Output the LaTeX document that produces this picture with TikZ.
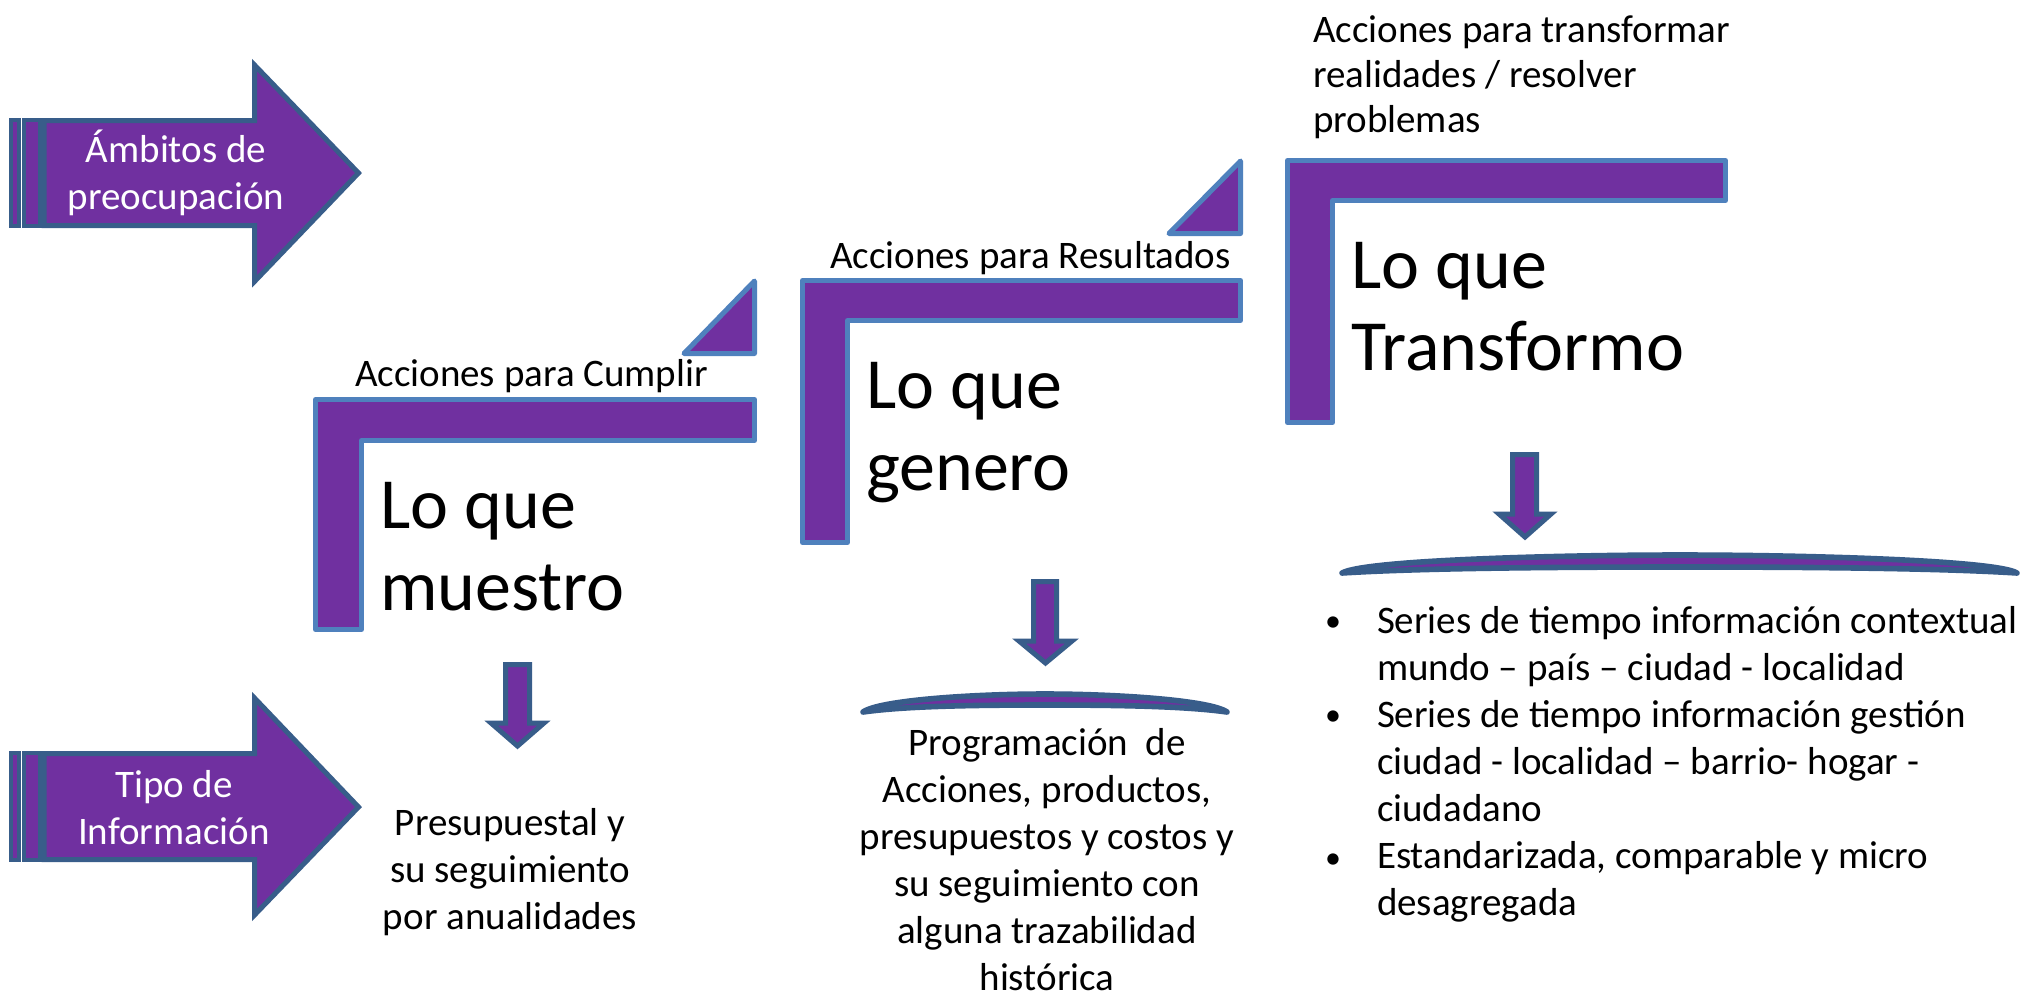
\documentclass[tikz,border=0pt]{standalone}
\usepackage{fontspec}
\setmainfont{Carlito}
\definecolor{purp}{HTML}{7030A0}
\definecolor{dkblue}{HTML}{385D8A}
\definecolor{ltblue}{HTML}{4F81BD}
\tikzset{
  blockarrow/.style={fill=purp, draw=dkblue, line width=2.5pt, line join=miter},
  stripe/.style={fill=purp, draw=dkblue, line width=2pt},
  lshape/.style={fill=purp, draw=ltblue, line width=2.5pt, line join=round},
  tri/.style={fill=purp, draw=ltblue, line width=2.5pt, line join=round},
  curvebar/.style={fill=purp, draw=dkblue, line width=2.8pt, line join=round},
  txt/.style={inner sep=0pt, outer sep=0pt, font=\fontsize{19.5}{23.5}\selectfont},
  bullettxt/.style={inner sep=0pt, outer sep=0pt, font=\fontsize{16}{20}\selectfont},
  bigtxt/.style={inner sep=0pt, outer sep=0pt, font=\fontsize{36}{41}\selectfont},
}
\begin{document}
\begin{tikzpicture}[x=0.5pt, y=-0.5pt]
\useasboundingbox (0,0) rectangle (2034,1003);
\fill[white] (0,0) rectangle (2034,1003);

% ---- Striped arrow 1: Ambitos de preocupacion
\path[stripe] (11,120) rectangle (18.5,226);
\path[stripe] (23.5,120) rectangle (39.5,226);
\path[blockarrow] (44,120.5) -- (254.5,120.5) -- (254.5,65) -- (358.5,173) -- (254.5,281.5) -- (254.5,225.5) -- (44,225.5) -- cycle;
\node[txt, text=white, anchor=base] (amb) at (176,162) {\begin{tabular}[t]{@{}c@{}}Ámbitos de\\ preocupación\end{tabular}};

% ---- Striped arrow 2: Tipo de Informacion
\path[stripe] (11,753) rectangle (19,860);
\path[stripe] (23.5,753) rectangle (39.5,860);
\path[blockarrow] (44,753.5) -- (254.5,753.5) -- (254.5,698) -- (358.5,807) -- (254.5,915) -- (254.5,859.5) -- (44,859.5) -- cycle;
\node[txt, text=white, anchor=base] (tipo) at (174,797) {\begin{tabular}[t]{@{}c@{}}Tipo de\\ Información\end{tabular}};

% ---- L shape 1 + triangle
\path[lshape] (315.5,399.5) -- (754.5,399.5) -- (754.5,440.5) -- (361.5,440.5) -- (361.5,629.5) -- (315.5,629.5) -- cycle;
\path[tri] (754.5,281) -- (754.5,353.5) -- (684,353.5) -- cycle;
\node[txt, anchor=base west] (cumplir) at (355,386) {Acciones para Cumplir};
\node[bigtxt, anchor=base west] (muestro) at (380,528) {\begin{tabular}[t]{@{}l@{}}Lo que\\ muestro\end{tabular}};

% ---- L shape 2 + triangle
\path[lshape] (802.5,280.5) -- (1240.5,280.5) -- (1240.5,320.5) -- (847.5,320.5) -- (847.5,542.5) -- (802.5,542.5) -- cycle;
\path[tri] (1240.5,161) -- (1240.5,233.5) -- (1169,233.5) -- cycle;
\node[txt, anchor=base west] (result) at (830,268) {Acciones para Resultados};
\node[bigtxt, anchor=base west] (genero) at (866,408) {\begin{tabular}[t]{@{}l@{}}Lo que\\ genero\end{tabular}};

% ---- L shape 3
\path[lshape] (1287.5,160.5) -- (1725.5,160.5) -- (1725.5,200.5) -- (1332.5,200.5) -- (1332.5,422.5) -- (1287.5,422.5) -- cycle;
\node[txt, anchor=base west] (transf) at (1313,42) {\fontsize{19.5}{22.5}\selectfont\begin{tabular}[t]{@{}l@{}}Acciones para transformar\\ realidades / resolver\\ problemas\end{tabular}};
\node[bigtxt, anchor=base west] (transformo) at (1351,288) {\begin{tabular}[t]{@{}l@{}}Lo que\\ Transformo\end{tabular}};

% ---- Down arrows
\path[blockarrow] (505.5,664.5) -- (529.5,664.5) -- (529.5,723) -- (544,723) -- (517.5,746) -- (491,723) -- (505.5,723) -- cycle;
\path[blockarrow] (1033.5,581.5) -- (1056.5,581.5) -- (1056.5,641) -- (1072,641) -- (1045.5,663) -- (1019,641) -- (1033.5,641) -- cycle;
\path[blockarrow] (1512.5,454.5) -- (1536.5,454.5) -- (1536.5,514) -- (1551,514) -- (1525,537) -- (1499,514) -- (1512.5,514) -- cycle;

% ---- Curved bars
\path[curvebar] (863,712) .. controls (880,700) and (975,694) .. (1045,694) .. controls (1115,694) and (1210,700) .. (1227,712) .. controls (1185,706) and (1115,705) .. (1045,705) .. controls (975,705) and (905,706) .. cycle;
\path[curvebar] (1342,573) .. controls (1365,560) and (1560,555) .. (1680,555) .. controls (1800,555) and (1995,560) .. (2017,573) .. controls (1940,568) and (1800,567) .. (1680,567) .. controls (1560,567) and (1420,568) .. cycle;

% ---- Lower texts
\node[txt, anchor=base] (presu) at (510,835) {\begin{tabular}[t]{@{}c@{}}Presupuestal y\\ su seguimiento\\ por anualidades\end{tabular}};
\node[txt, anchor=base] (progr) at (1047,755) {\begin{tabular}[t]{@{}c@{}}Programación~ de\\ Acciones, productos,\\ presupuestos y costos y\\ su seguimiento con\\ alguna trazabilidad\\ histórica\end{tabular}};

\node[txt, anchor=base west] (series) at (1377,633) {\begin{tabular}[t]{@{}l@{}}Series de tiempo información contextual\\ mundo – país – ciudad - localidad\\ Series de tiempo información gestión\\ ciudad - localidad – barrio- hogar -\\ ciudadano\\ Estandarizada, comparable y micro\\ desagregada\end{tabular}};
\node[bullettxt, anchor=base] (b1) at (1333,631) {•};
\node[bullettxt, anchor=base] (b2) at (1333,725) {•};
\node[bullettxt, anchor=base] (b3) at (1333,868) {•};
\end{tikzpicture}
\end{document}
